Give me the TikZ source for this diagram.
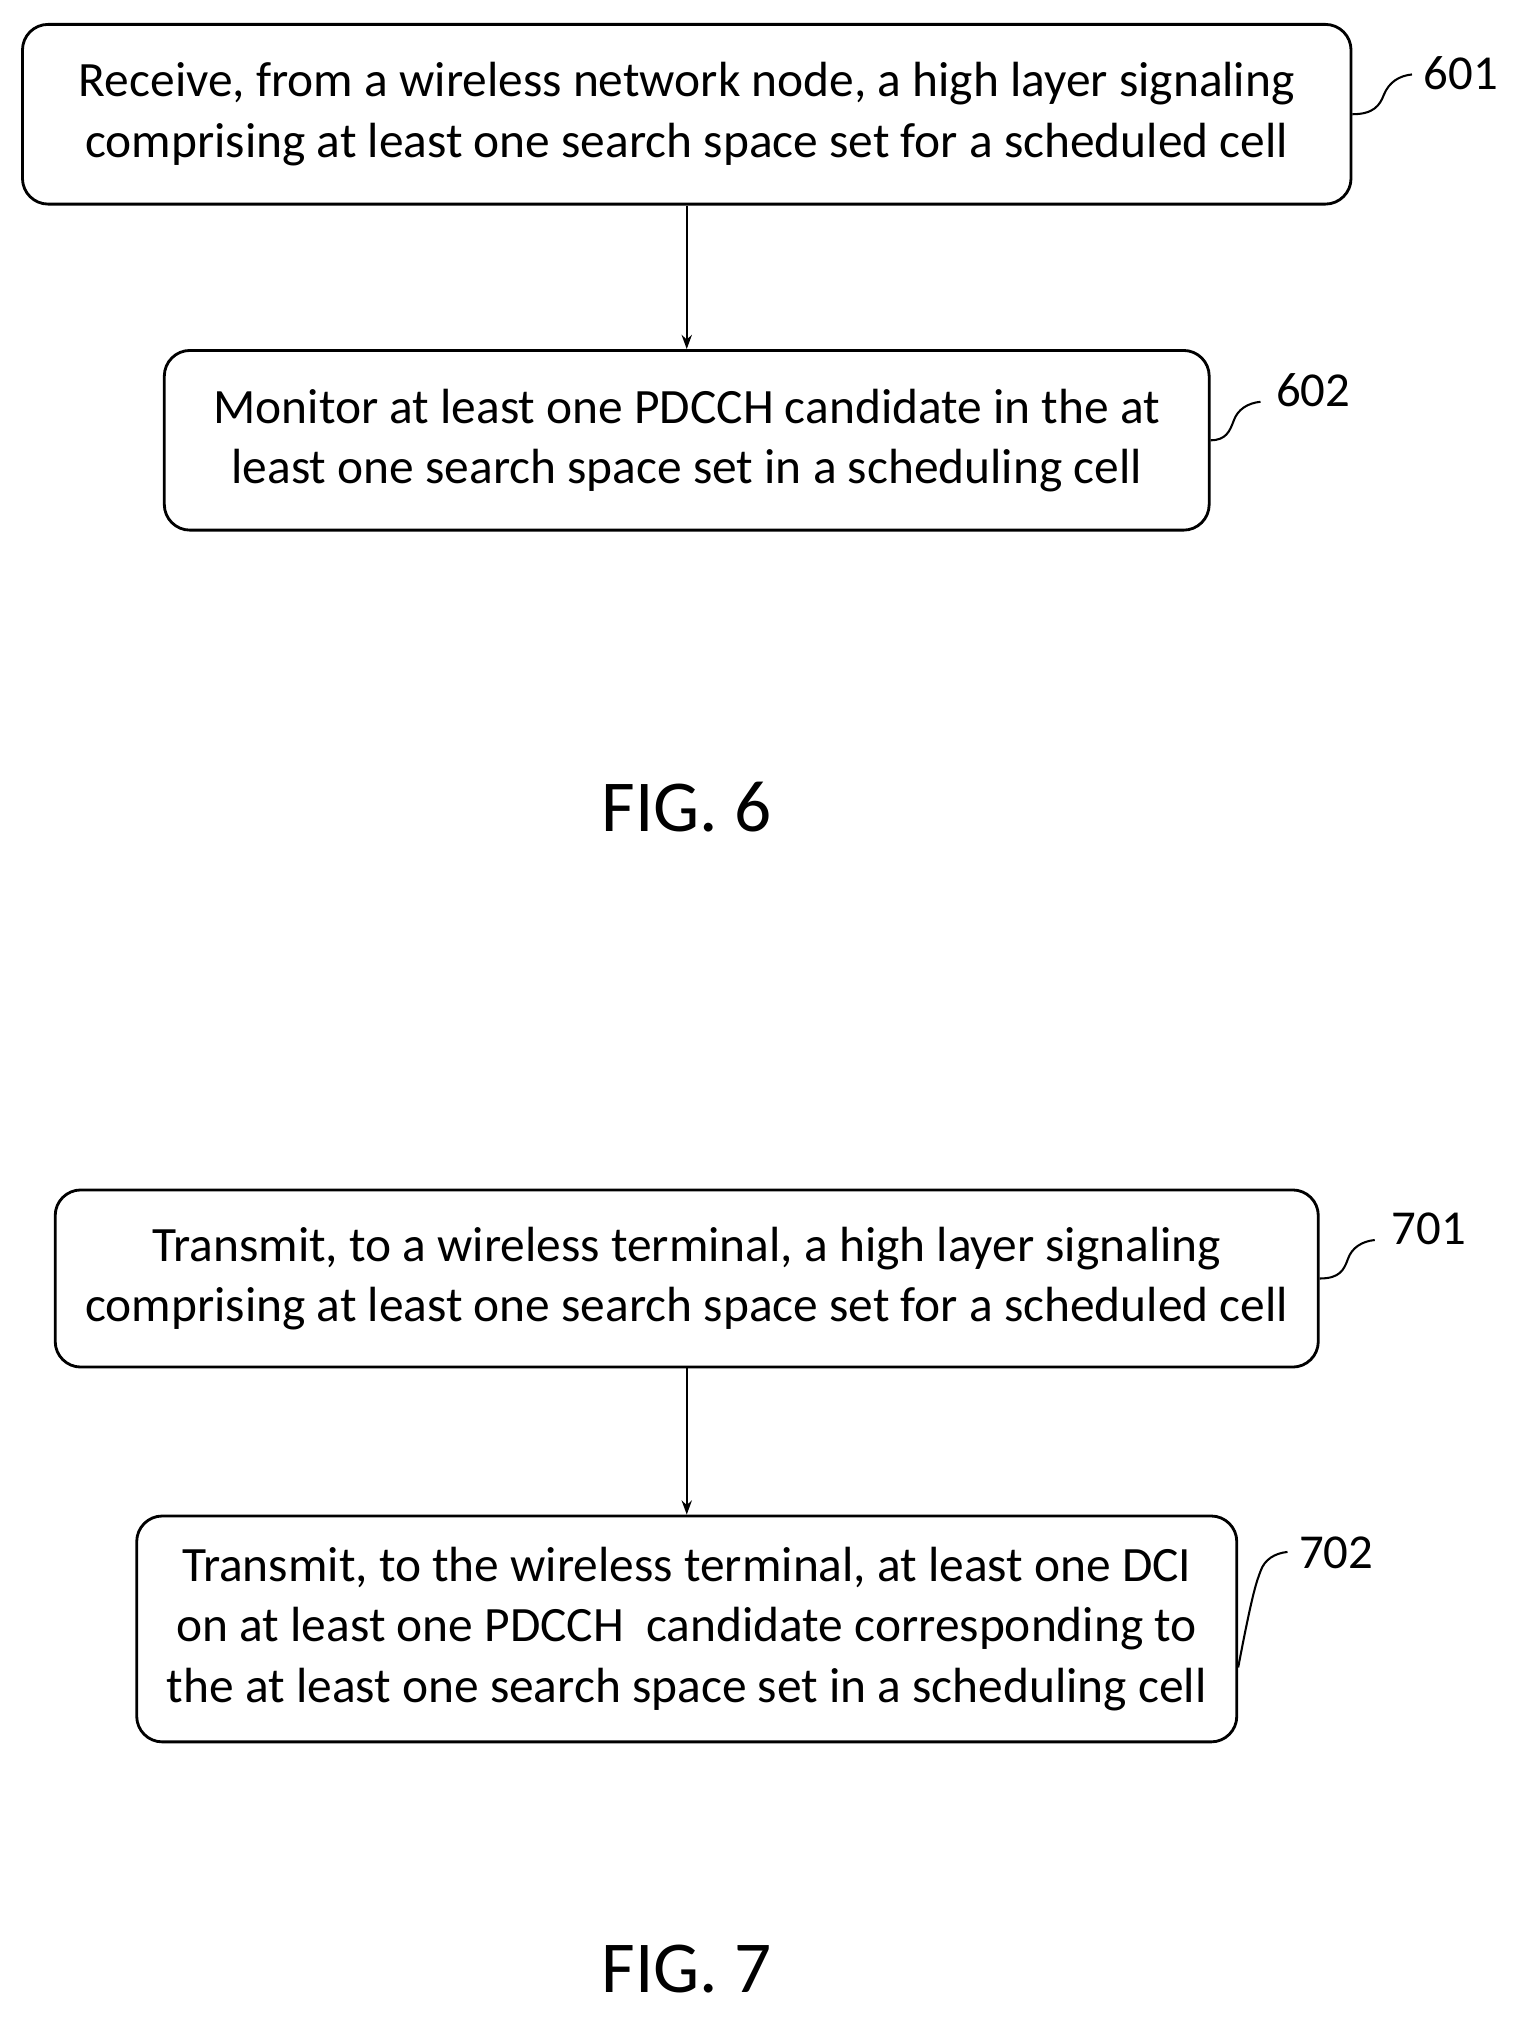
\documentclass[tikz,border=0pt]{standalone}
\usepackage{fontspec}
\setmainfont{Carlito}
\usetikzlibrary{arrows.meta}
\begin{document}
\begin{tikzpicture}[x=1pt,y=-1pt,
  box/.style={draw,line width=2.2pt,rounded corners=20pt,align=center,font=\fontsize{38.5}{47}\selectfont,inner sep=0pt},
  lab/.style={font=\fontsize{38}{40}\selectfont},
  fig/.style={font=\fontsize{57}{60}\selectfont},
  sq/.style={line width=1.6pt},
  arr/.style={line width=1.6pt,-{Stealth[length=11pt,width=8pt]}}]
\useasboundingbox (0,0) rectangle (1187,1576);
\node[box,minimum width=1035pt,minimum height=140pt] (b601) at (535,89) {Receive, from a wireless network node, a high layer signaling\\comprising at least one search space set for a scheduled cell};
\node[box,minimum width=814pt,minimum height=140pt] (b602) at (535,343) {Monitor at least one PDCCH candidate in the at\\least one search space set in a scheduling cell};
\draw[arr] (b601) -- (b602);
\node[fig] (f6) at (535,629) {FIG. 6};
\node[lab] (l601) at (1138,57) {601};
\node[lab] (l602) at (1023,304) {602};
\node[box,minimum width=984pt,minimum height=138pt] (b701) at (535,996) {Transmit, to a wireless terminal, a high layer signaling\\comprising at least one search space set for a scheduled cell};
\node[box,minimum width=857pt,minimum height=176pt] (b702) at (535,1269) {Transmit, to the wireless terminal, at least one DCI\\on at least one PDCCH\ \ candidate corresponding to\\the at least one search space set in a scheduling cell};
\draw[arr] (b701) -- (b702);
\node[fig] (f7) at (535,1534) {FIG. 7};
\node[lab] (l701) at (1113,957) {701};
\node[lab] (l702) at (1041,1210) {702};
\draw[sq] (b601.east) .. controls (1070,89) and (1075,82) .. (1078,74) .. controls (1082,64) and (1090,59) .. (1100,58);
\draw[sq] (b602.east) .. controls (955,343) and (958,336) .. (961,328) .. controls (964,319) and (972,314) .. (982,313);
\draw[sq] (b701.east) .. controls (1044,996) and (1047,989) .. (1050,981) .. controls (1053,972) and (1061,967) .. (1071,966);
\draw[sq] ([yshift=-30pt]b702.east) .. controls (976,1239) and (979,1232) .. (982,1224) .. controls (985,1215) and (993,1210) .. (1003,1209);
\end{tikzpicture}
\end{document}
